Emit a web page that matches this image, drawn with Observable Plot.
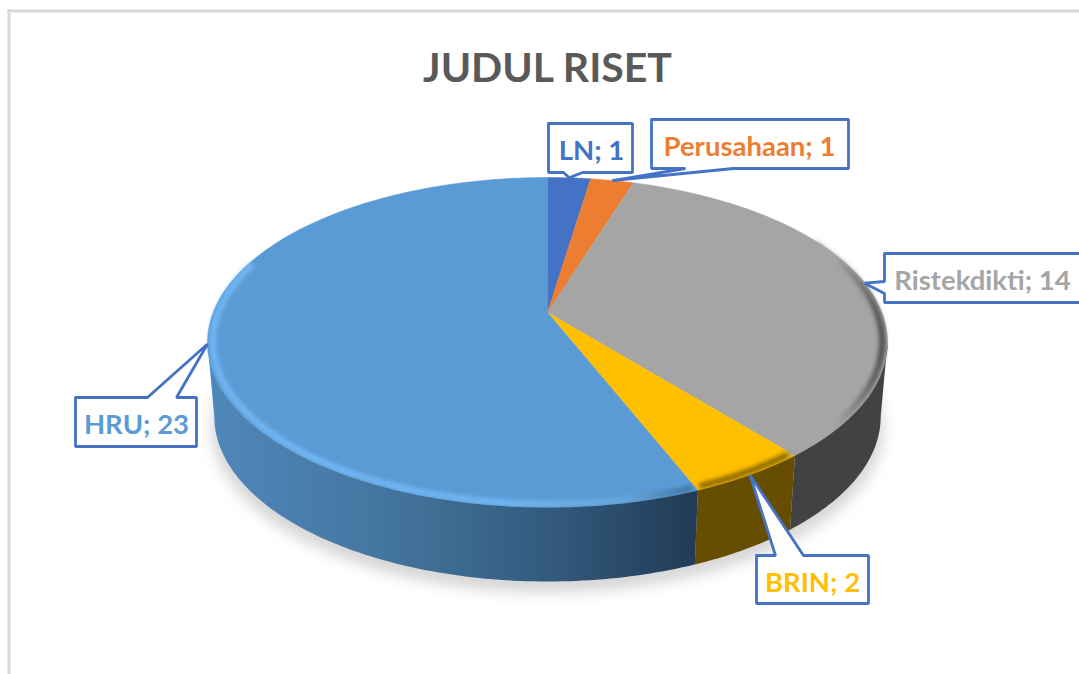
<!DOCTYPE html>
<html>
<head>
<meta charset="utf-8">
<script src="https://cdn.jsdelivr.net/npm/d3@7"></script>
<script src="https://cdn.jsdelivr.net/npm/@observablehq/plot@0.6"></script>
<style>
html,body{margin:0;padding:0;background:#fff;overflow:hidden}
svg{display:block}
</style>
</head>
<body>
<div id="chart"></div>
<script>
const chartTitle = "JUDUL RISET";
const categories = ["LN", "Perusahaan", "Ristekdikti", "BRIN", "HRU"];
const values = [1, 1, 14, 2, 23];
const sliceColors = ["#4472c4", "#ed7d31", "#a5a5a5", "#ffc000", "#5b9bd5"];
const wallColors = ["#2a4476", "#8e4b1d", "#424242", "#664d00", "url(#hruWall)"];
const bevelColors = ["none", "none", "url(#greyBevel)", "#8a6800", "url(#hruBevel)"];

// Layout only: callout boxes [left, top, right, bottom], tail base on a box side
const boxes = [
  {l: 548, t: 123, r: 632, b: 172, tail: [[582, 172], [563, 172]], tx: 591, ty: 159},
  {l: 651, t: 119, r: 848, b: 168, tail: [[733, 168], [685, 168]], tx: 749, ty: 155},
  {l: 884, t: 253, r: 1084, b: 302, tail: [[884, 293], [884, 281]], tx: 982, ty: 289},
  {l: 756, t: 555, r: 868, b: 603, tail: [[775, 555], [803, 555]], tx: 812, ty: 591, flip: true},
  {l: 75, t: 397, r: 196, b: 446, tail: [[147, 397], [176, 397]], tx: 136, ty: 433, flip: true}
];

// Perspective pie: unit circle mapped on an ellipse whose apex sits above its centre
const cx = 547, cy = 342, rx = 340, ry = 165, apexLift = 30, depth = 74, floorScale = 0.98;
const k = apexLift / ry, A = rx * Math.sqrt(1 - k * k);
const rad = d => d * Math.PI / 180;
function project(deg, r = 1) {
  const X = r * Math.sin(rad(deg)), Y = r * Math.cos(rad(deg)), w = 1 + k * Y;
  return {x: cx + A * X / w, y: cy - (ry * Y + apexLift) / w};
}
function arc(a0, a1, r = 1) {
  const n = Math.max(2, Math.ceil(Math.abs(a1 - a0)));
  return d3.range(n + 1).map(i => project(a0 + (a1 - a0) * i / n, r));
}
const total = d3.sum(values);
let running = 0;
const slices = values.map((v, i) => {
  const a0 = running / total * 360;
  running += v;
  return {i, a0, a1: running / total * 360, mid: (a0 + running / total * 360) / 2};
});
const wallStart = Math.acos(-k) * 180 / Math.PI, wallEnd = 360 - wallStart;

const marks = [];

// gradients used by walls and bevels
marks.push(() => {
  const g = d3.create("svg:g");
  g.html(`<defs>
    <linearGradient id="hruWall" gradientUnits="userSpaceOnUse" x1="207" y1="0" x2="697" y2="0">
      <stop offset="0" stop-color="#4f88bc"/><stop offset="0.35" stop-color="#44769f"/>
      <stop offset="0.7" stop-color="#335a7d"/><stop offset="1" stop-color="#213b55"/>
    </linearGradient>
    <linearGradient id="hruBevel" gradientUnits="userSpaceOnUse" x1="207" y1="0" x2="697" y2="0">
      <stop offset="0" stop-color="#72b8f5"/><stop offset="0.6" stop-color="#72b8f5"/>
      <stop offset="0.85" stop-color="#6aa8dd"/><stop offset="1" stop-color="#3c6a93"/>
    </linearGradient>
    <linearGradient id="greyBevel" gradientUnits="userSpaceOnUse" x1="835" y1="0" x2="885" y2="0">
      <stop offset="0" stop-color="#a5a5a5"/><stop offset="0.5" stop-color="#767676"/><stop offset="1" stop-color="#444444"/>
    </linearGradient>
  </defs>`);
  return g.node();
});

// window border
marks.push(Plot.ruleY([10.5], {x1: 7, x2: 1079, stroke: "#d9d9d9", strokeWidth: 3}));
marks.push(Plot.ruleX([8.5], {y1: 9, y2: 674, stroke: "#d9d9d9", strokeWidth: 3}));

// shadow under the pie
const shadow = d3.range(0, 361, 2).map(d => ({
  x: cx + (rx - 4) * Math.sin(rad(d)),
  y: cy + depth + 11 - ry * Math.cos(rad(d))
}));
marks.push(Plot.line(shadow, {x: "x", y: "y", fill: "#000", fillOpacity: 0.16, stroke: "none", imageFilter: "blur(7px)"}));

// top faces
const faceMarks = slices.map(s => Plot.line(
  [{x: project(0, 0).x, y: project(0, 0).y}, ...arc(s.a0, s.a1)],
  {x: "x", y: "y", fill: sliceColors[s.i], stroke: sliceColors[s.i], strokeWidth: 0.5}
));
marks.push(...faceMarks);

const bevelRanges = [null, null, [62, 140.5], [141.5, 157], [159, 288]];
slices.forEach(s => {
  const range = bevelRanges[s.i];
  if (!range) return;
  marks.push(Plot.line(arc(range[0], range[1], 0.985), {
    x: "x", y: "y", stroke: bevelColors[s.i], strokeWidth: 6, fill: "none",
    imageFilter: "blur(2px)"
  }));
});

// front walls
slices.forEach(s => {
  const a0 = Math.max(s.a0, wallStart), a1 = Math.min(s.a1, wallEnd);
  if (a1 <= a0) return;
  const top = arc(a0, a1);
  const bottom = top.map(p => ({x: cx + (p.x - cx) * floorScale, y: p.y + depth})).reverse();
  marks.push(Plot.line([...top, ...bottom], {
    x: "x", y: "y", fill: wallColors[s.i], stroke: "none"
  }));
});

// callouts, tail tip taken from each slice's mid angle on the rim
slices.forEach(s => {
  const b = boxes[s.i], tip = project(s.mid);
  const [p, q] = b.tail;
  let outline;
  if (s.i === 0 || s.i === 1) { // tail on bottom side
    outline = [[b.l, b.t], [b.r, b.t], [b.r, b.b], p, [tip.x, tip.y], q, [b.l, b.b]];
  } else if (s.i === 2) { // tail on left side
    outline = [[b.l, b.t], [b.r, b.t], [b.r, b.b], [b.l, b.b], p, [tip.x, tip.y], q];
  } else { // tail on top side
    outline = [[b.l, b.t], p, [tip.x, tip.y], q, [b.r, b.t], [b.r, b.b], [b.l, b.b]];
  }
  outline.push(outline[0]);
  marks.push(Plot.line(outline, {
    x: d => d[0], y: d => d[1], fill: "#fff", stroke: "#4472c4", strokeWidth: 2.8, strokeLinejoin: "miter"
  }));
  marks.push(Plot.text([`${categories[s.i]}; ${values[s.i]}`], {
    x: () => b.tx, y: () => b.ty, text: d => d, fill: sliceColors[s.i],
    fontFamily: "Lato", fontWeight: 700, fontSize: 27.5, textAnchor: "middle", lineAnchor: "bottom"
  }));
});

marks.push(Plot.text([chartTitle], {
  x: () => 547, y: () => 81, text: d => d, fill: "#595959",
  fontFamily: "Lato", fontWeight: 700, fontSize: 41, textAnchor: "middle", lineAnchor: "bottom"
}));

const plot = Plot.plot({
  width: 1079, height: 674,
  marginTop: 0, marginRight: 0, marginBottom: 0, marginLeft: 0,
  x: {domain: [0, 1079], range: [0, 1079], axis: null},
  y: {domain: [0, 674], range: [0, 674], axis: null},
  style: {background: "#fff"},
  marks
});
document.getElementById("chart").append(plot);
</script>
</body>
</html>
